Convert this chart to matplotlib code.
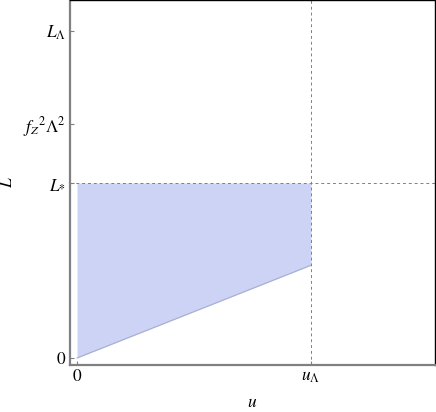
import matplotlib
matplotlib.use("Agg")
import matplotlib.pyplot as plt

plt.rcParams['mathtext.fontset'] = 'stix'
plt.rcParams['font.family'] = ['Liberation Serif', 'DejaVu Serif']

# data (u in units of u_Lambda, L in units of L_*)
u_region = [0.0, 1.0]
lower_edge = [0.0, 0.53]
L_star = 1.0
u_Lambda = 1.0
yticks = [0.0, 1.0, 1.337, 1.869]
ytick_labels = [r'$0$', r'$L_{*}$', r'$f_Z{}^2\Lambda^2$', r'$L_\Lambda$']
xticks = [0.0, 1.0]
xtick_labels = [r'$0$', r'$u_\Lambda$']

fig = plt.figure(figsize=(4.36, 4.12), dpi=100)
ax = fig.add_axes([70/436, 47/412, 365/436, 365/412])

ax.fill_between(u_region, lower_edge, [L_star, L_star], color='#ccd3f4', lw=0)
ax.plot(u_region, lower_edge, color='#a9aed0', lw=0.8)
ax.axhline(L_star, color='#7a7c9a', lw=0.7, ls=(0, (3, 3)))
ax.axvline(u_Lambda, color='#7a7c9a', lw=0.7, ls=(0, (3, 3)))

ax.set_xlim(-0.03, 1.53)
ax.set_ylim(-0.04, 2.046)
ax.set_xticks(xticks)
ax.set_xticklabels(xtick_labels, fontsize=12.5)
ax.set_yticks(yticks)
ax.set_yticklabels(ytick_labels, fontsize=12.5)
ax.tick_params(direction='in', length=3, width=0.8, color='#808080', pad=3)

for s in ['left', 'bottom']:
    ax.spines[s].set_color('#808080')
    ax.spines[s].set_linewidth(1.6)
for s in ['top', 'right']:
    ax.spines[s].set_color('black')
    ax.spines[s].set_linewidth(1.0)

ax.set_xlabel(r'$u$', fontsize=12.5, labelpad=7)
ax.set_ylabel(r'$L$', fontsize=12.5, labelpad=5)

fig.savefig('out.png', dpi=100)
